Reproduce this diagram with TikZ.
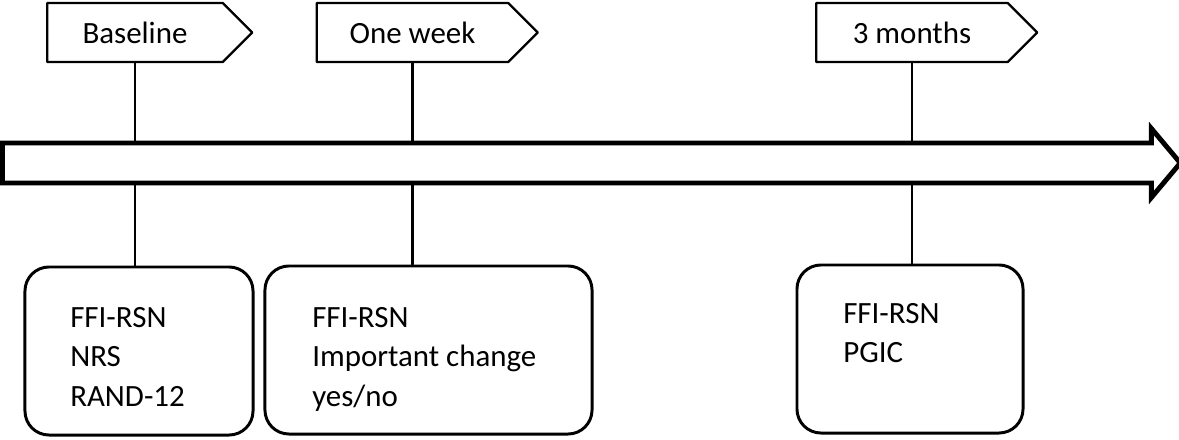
\documentclass[tikz,border=0pt]{standalone}
\usepackage{fontspec}
\setmainfont{Carlito}
\usetikzlibrary{shapes.symbols,shapes.arrows}

\begin{document}
\begin{tikzpicture}[line cap=round,line join=round,x=0.025cm,y=-0.025cm,
  every node/.style={font=\fontsize{22}{28}\selectfont},
  tag/.style={draw,line width=1.6pt,signal,signal to=east,signal pointer angle=90,minimum height=1.475cm,inner sep=0pt},
  box/.style={draw,line width=2.1pt,rounded corners=0.6cm,minimum height=4.2cm,inner sep=0pt},
  boxtext/.style={anchor=north west,align=left,inner sep=0pt},
  link/.style={line width=1.6pt},
  timeline/.style={draw,fill=white,line width=3.5pt,line join=miter,single arrow,single arrow tip angle=100,single arrow head extend=0.3625cm,minimum height=29.44cm,inner xsep=0pt,inner ysep=0.4375cm}]
 	\useasboundingbox (0,0) rectangle (1179,440);
 	\node[tag,minimum width=5.125cm] (base) at (135,32.5) {Baseline};
 	\node[tag,minimum width=5.525cm] (week) at (412.5,32.5) {One week};
 	\node[tag,minimum width=5.525cm] (months) at (912,32.5) {3 months};
 	\node[box,minimum width=5.7cm] (baseBox) at (139,351) {};
 	\node[box,minimum width=8.175cm] (weekBox) at (428.5,350) {};
 	\node[box,minimum width=5.65cm] (monthsBox) at (910,349) {};
 	\node[boxtext] (baseText) at (70,307) {FFI-RSN\\NRS\\RAND-12};
 	\node[boxtext] (weekText) at (312,307) {FFI-RSN\\Important change\\yes/no};
 	\node[boxtext] (monthsText) at (843,303) {FFI-RSN\\PGIC};
 	\draw [link] (base.south) -- (base.south |- baseBox.north);
 	\draw [link] (week.south) -- (week.south |- weekBox.north);
 	\draw [link] (months.south) -- (months.south |- monthsBox.north);
 	\node[timeline] (axis) at (583,163) {};
\end{tikzpicture}
\end{document}
